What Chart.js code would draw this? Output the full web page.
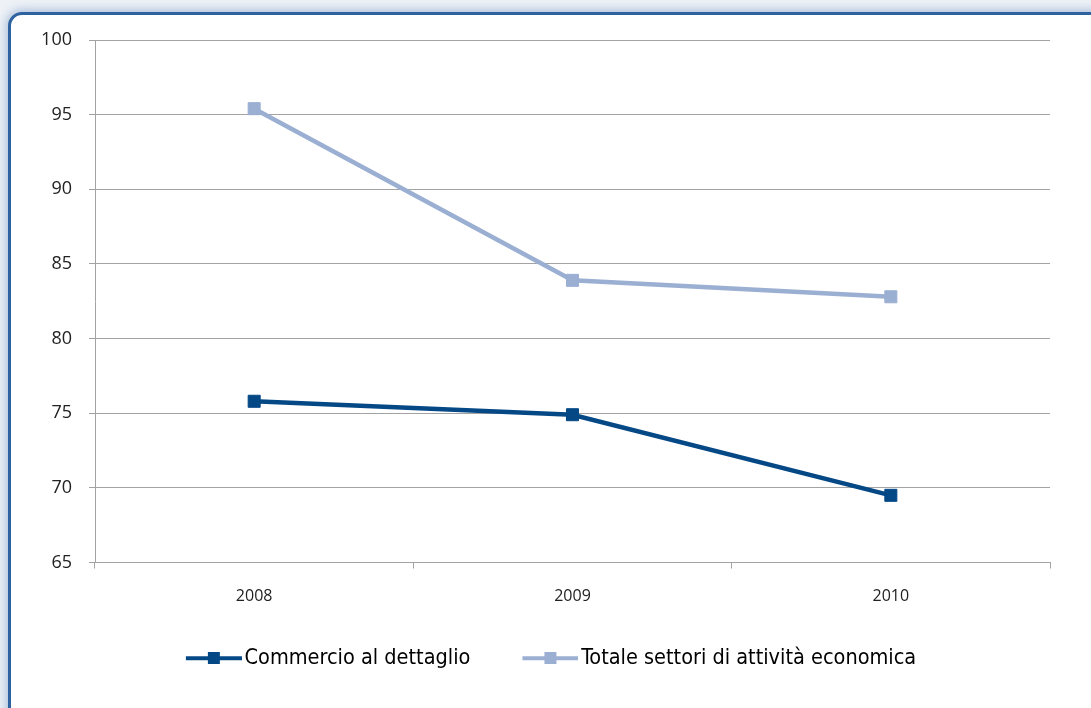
<!DOCTYPE html>
<html>
<head>
<meta charset="utf-8">
<script src="https://cdn.jsdelivr.net/npm/chart.js@4"></script>
<style>
  html, body { margin: 0; padding: 0; }
  body { width: 1091px; height: 708px; overflow: hidden; background: #eef2f7; position: relative; }
  .card {
    position: absolute; left: 8px; top: 12px; width: 1120px; height: 740px;
    background: #fff; border: 3px solid #2f62a0; border-radius: 14px;
    box-shadow: 0 0 9px 3px rgba(110, 145, 190, 0.45);
  }
  #chart { position: absolute; left: 0; top: 0; }
</style>
</head>
<body>
<div class="card"></div>
<canvas id="chart" width="1091" height="708"></canvas>
<script>
const years = ['2008', '2009', '2010'];
const commercio = [75.8, 74.9, 69.5];
const totale = [95.4, 83.9, 82.8];
const seriesNames = ['Commercio al dettaglio', 'Totale settori di attività economica'];
const yTicks = [65, 70, 75, 80, 85, 90, 95, 100];

const darkBlue = '#054886';
const lightBlue = '#9bafd2';

// legend swatch: a short line with a square in the middle,
// left part kept transparent to widen the gap between items
function swatch(color) {
  const c = document.createElement('canvas');
  c.width = 80; c.height = 12;
  const g = c.getContext('2d');
  g.fillStyle = color;
  g.fillRect(24, 4, 56, 4);
  g.fillRect(46, 0, 12, 12);
  return c;
}

const swatches = [swatch(darkBlue), swatch(lightBlue)];

const ctx = document.getElementById('chart').getContext('2d');
new Chart(ctx, {
  type: 'line',
  data: {
    labels: years,
    datasets: [
      {
        label: seriesNames[0],
        data: commercio,
        borderColor: darkBlue,
        backgroundColor: darkBlue,
        borderWidth: 4.5,
        pointStyle: 'rect',
        pointRadius: 8.5,
        pointHoverRadius: 8.5,
        pointBorderWidth: 1,
        fill: false,
        tension: 0
      },
      {
        label: seriesNames[1],
        data: totale,
        borderColor: lightBlue,
        backgroundColor: lightBlue,
        borderWidth: 4.5,
        pointStyle: 'rect',
        pointRadius: 8.5,
        pointHoverRadius: 8.5,
        pointBorderWidth: 1,
        fill: false,
        tension: 0
      }
    ]
  },
  options: {
    responsive: false,
    animation: false,
    layout: { padding: { left: 36, right: 41, top: 40, bottom: 29 } },
    scales: {
      x: {
        offset: true,
        afterFit: (s) => { s.height = 49; },
        grid: { offset: true, drawOnChartArea: false, color: '#a3a3a3', tickLength: 6 },
        border: { color: '#a3a3a3', width: 1 },
        ticks: { padding: 18, color: '#222', font: { family: 'Open Sans', size: 16 } }
      },
      y: {
        min: 65,
        max: 100,
        afterFit: (s) => { s.width = 59; },
        afterBuildTicks: (s) => { s.ticks = yTicks.map(v => ({ value: v })); },
        grid: { color: '#a3a3a3', lineWidth: 1, tickLength: 6 },
        border: { color: '#a3a3a3', width: 1 },
        ticks: { padding: 17, color: '#222', font: { family: 'Open Sans', size: 18 } }
      }
    },
    plugins: {
      tooltip: { enabled: false },
      legend: {
        position: 'bottom',
        labels: {
          usePointStyle: true,
          pointStyleWidth: 64,
          padding: 36,
          color: '#2a2a2a',
          font: { family: 'DejaVu Sans Condensed', size: 21.5 },
          generateLabels: (chart) => chart.data.datasets.map((ds, i) => ({
            text: ds.label,
            pointStyle: swatches[i],
            fillStyle: ds.borderColor,
            strokeStyle: ds.borderColor,
            lineWidth: 0,
            hidden: false,
            datasetIndex: i
          }))
        }
      }
    }
  }
});
</script>
</body>
</html>
